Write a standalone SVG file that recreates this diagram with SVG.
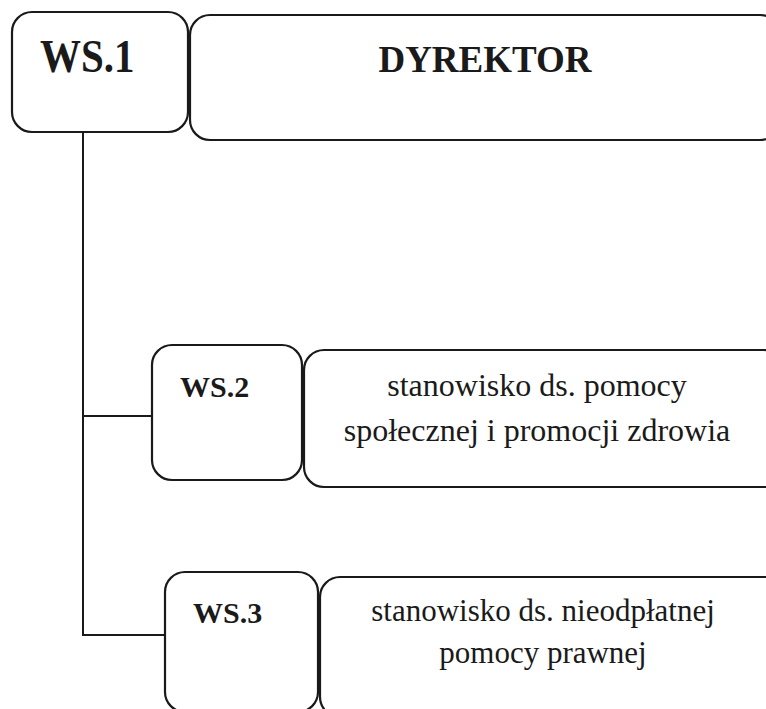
<svg xmlns="http://www.w3.org/2000/svg" width="766" height="709" viewBox="0 0 766 709">
<style>
.box{fill:#fff;stroke:#1a1a1a;stroke-width:2.2}
.code{font-family:"Liberation Serif","Times New Roman",serif;font-weight:bold;fill:#1a1a1a}
.lbl{font-family:"Liberation Serif","Times New Roman",serif;fill:#1a1a1a;text-anchor:middle}
.con{fill:none;stroke:#1a1a1a;stroke-width:2}
</style>
<rect width="766" height="709" fill="#fff"/>
<g id="connectors">
<path class="con" d="M83 132 V635 H165"/>
<path class="con" d="M83 416 H152"/>
</g>
<g id="ws1">
<rect class="box" x="12" y="12" width="176" height="120" rx="20"/>
<text class="code" transform="translate(40,72) scale(1,1.12)" font-size="41">WS.1</text>
</g>
<g id="dyrektor">
<rect class="box" x="190" y="15" width="590" height="125" rx="20"/>
<text class="code" x="485" y="72" font-size="37" text-anchor="middle">DYREKTOR</text>
</g>
<g id="ws2">
<rect class="box" x="152" y="345" width="150" height="135" rx="20"/>
<text class="code" x="180" y="397" font-size="30">WS.2</text>
</g>
<g id="ws2-name">
<rect class="box" x="304" y="350" width="480" height="137" rx="20"/>
<text class="lbl" x="537" y="396" font-size="32">stanowisko ds. pomocy</text>
<text class="lbl" x="537" y="441" font-size="32">społecznej i promocji zdrowia</text>
</g>
<g id="ws3">
<rect class="box" x="165" y="572" width="153" height="140" rx="20"/>
<text class="code" x="193" y="623" font-size="30">WS.3</text>
</g>
<g id="ws3-name">
<rect class="box" x="320" y="577" width="470" height="140" rx="20"/>
<text class="lbl" x="543" y="621" font-size="31">stanowisko ds. nieodpłatnej</text>
<text class="lbl" x="543" y="663" font-size="31">pomocy prawnej</text>
</g>
</svg>
